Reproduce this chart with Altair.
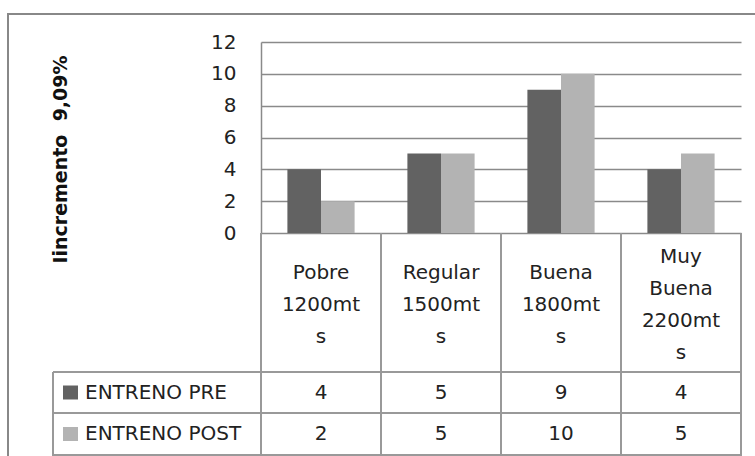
import altair as alt
import pandas as pd

# ---- data -------------------------------------------------------------
categories = ["Pobre 1200mts", "Regular 1500mts", "Buena 1800mts", "Muy Buena 2200mts"]
header_labels = ["Pobre\n1200mt\ns", "Regular\n1500mt\ns", "Buena\n1800mt\ns", "Muy\nBuena\n2200mt\ns"]
series = ["ENTRENO PRE", "ENTRENO POST"]
pre_values = [4, 5, 9, 4]
post_values = [2, 5, 10, 5]
y_ticks = [0, 2, 4, 6, 8, 10, 12]
y_title = "Iincremento\u00a0 9,09%"

# ---- layout (pixels, relative to the plot area) -----------------------
W, H = 480, 191
PAD_L, PAD_T = 261, 42
STEP = W / len(categories)
HEADER_BOTTOM = 330
ROW1_BOTTOM = 371
ROW2_BOTTOM = 413
TABLE_LEFT = -208
LINE_H = 32
FONT = "DejaVu Sans"
FS = 20
TXT = "#222222"
LINE = "#989898"
COLORS = ["#626262", "#b3b3b3"]

bars_df = pd.DataFrame(
    [{"categoria": c, "serie": series[0], "valor": v} for c, v in zip(categories, pre_values)]
    + [{"categoria": c, "serie": series[1], "valor": v} for c, v in zip(categories, post_values)]
)
table_df = pd.DataFrame({
    "categoria": categories,
    "cabecera": header_labels,
    "lineas": [s.count("\n") + 1 for s in header_labels],
    "pre": pre_values,
    "post": post_values,
})

x_enc = alt.X(
    "categoria:N", sort=categories, axis=None,
    scale=alt.Scale(paddingInner=0.44, paddingOuter=0.22),
)

bars = alt.Chart(bars_df).mark_bar().encode(
    x=x_enc,
    xOffset=alt.XOffset("serie:N", sort=series, scale=alt.Scale(paddingInner=0, paddingOuter=0)),
    y=alt.Y(
        "valor:Q",
        scale=alt.Scale(domain=[0, 12], nice=False),
        axis=alt.Axis(
            values=y_ticks, ticks=False, tickSize=0, labelPadding=25,
            labelFont=FONT, labelFontSize=FS, labelColor=TXT,
            grid=True, gridColor="#8a8a8a", gridWidth=1.5,
            domain=True, domainColor="#8a8a8a", domainWidth=1.5,
            title=y_title, titleFont=FONT, titleFontSize=19, titleFontWeight="bold",
            titleColor="#111111", titleAngle=270, titleAlign="center",
            titleBaseline="middle", titleX=-201, titleY=117,
        ),
    ),
    color=alt.Color("serie:N", scale=alt.Scale(domain=series, range=COLORS), legend=None),
)

# category header cells of the data table, block centred in the cell
header_center = (H + HEADER_BOTTOM) / 2 + 2
header_layers = []
for n in sorted(set(table_df["lineas"])):
    header_layers.append(
        alt.Chart(table_df).transform_filter(alt.datum.lineas == int(n)).mark_text(
            font=FONT, fontSize=FS, color=TXT, lineBreak="\n", lineHeight=LINE_H,
            align="center", baseline="middle",
        ).encode(
            x=x_enc,
            y=alt.value(header_center - LINE_H * (n - 1) / 2),
            text="cabecera:N",
        )
    )

row_pre = alt.Chart(table_df).mark_text(
    font=FONT, fontSize=FS, color=TXT, align="center", baseline="middle",
).encode(x=x_enc, y=alt.value((HEADER_BOTTOM + ROW1_BOTTOM) / 2), text="pre:Q")

row_post = alt.Chart(table_df).mark_text(
    font=FONT, fontSize=FS, color=TXT, align="center", baseline="middle",
).encode(x=x_enc, y=alt.value((ROW1_BOTTOM + ROW2_BOTTOM) / 2), text="post:Q")

legend_layers = []
for i, name in enumerate(series):
    cy = (HEADER_BOTTOM + ROW1_BOTTOM) / 2 if i == 0 else (ROW1_BOTTOM + ROW2_BOTTOM) / 2
    legend_layers.append(
        alt.Chart(pd.DataFrame({"serie": [name]})).mark_rect(color=COLORS[i]).encode(
            x=alt.value(-198), x2=alt.value(-183), y=alt.value(cy - 7), y2=alt.value(cy + 7)
        )
    )
    legend_layers.append(
        alt.Chart(pd.DataFrame({"serie": [name]})).mark_text(
            font=FONT, fontSize=FS, color=TXT, align="left", baseline="middle",
        ).encode(x=alt.value(-176), y=alt.value(cy), text="serie:N")
    )

# table grid lines
rules = []
for i in range(len(categories) + 1):
    rules.append(
        alt.Chart(table_df).mark_rule(color=LINE, strokeWidth=1.5).encode(
            x=alt.value(i * STEP), y=alt.value(H), y2=alt.value(ROW2_BOTTOM + 2)
        )
    )
rules.append(
    alt.Chart(table_df).mark_rule(color=LINE, strokeWidth=1.5).encode(
        x=alt.value(TABLE_LEFT), y=alt.value(HEADER_BOTTOM), y2=alt.value(ROW2_BOTTOM + 2)
    )
)
for yy in [HEADER_BOTTOM, ROW1_BOTTOM, ROW2_BOTTOM]:
    rules.append(
        alt.Chart(table_df).mark_rule(color=LINE, strokeWidth=1.5).encode(
            x=alt.value(TABLE_LEFT), x2=alt.value(W), y=alt.value(yy)
        )
    )

# outer chart frame
frame = alt.Chart(table_df).mark_rect(
    fill="transparent", stroke="#888888", strokeWidth=2
).encode(x=alt.value(-253), x2=alt.value(W + 30), y=alt.value(-28), y2=alt.value(ROW2_BOTTOM + 40))

chart = alt.layer(
    frame, *rules, bars, *header_layers, row_pre, row_post, *legend_layers
).properties(
    width=W, height=H,
    autosize=alt.AutoSizeParams(type="none"),
    padding={"left": PAD_L, "top": PAD_T, "right": 755 - PAD_L - W, "bottom": 456 - PAD_T - H},
    background="white",
).configure_view(stroke="transparent")

chart.save("out.html", embed_options={"renderer": "svg", "actions": False})
